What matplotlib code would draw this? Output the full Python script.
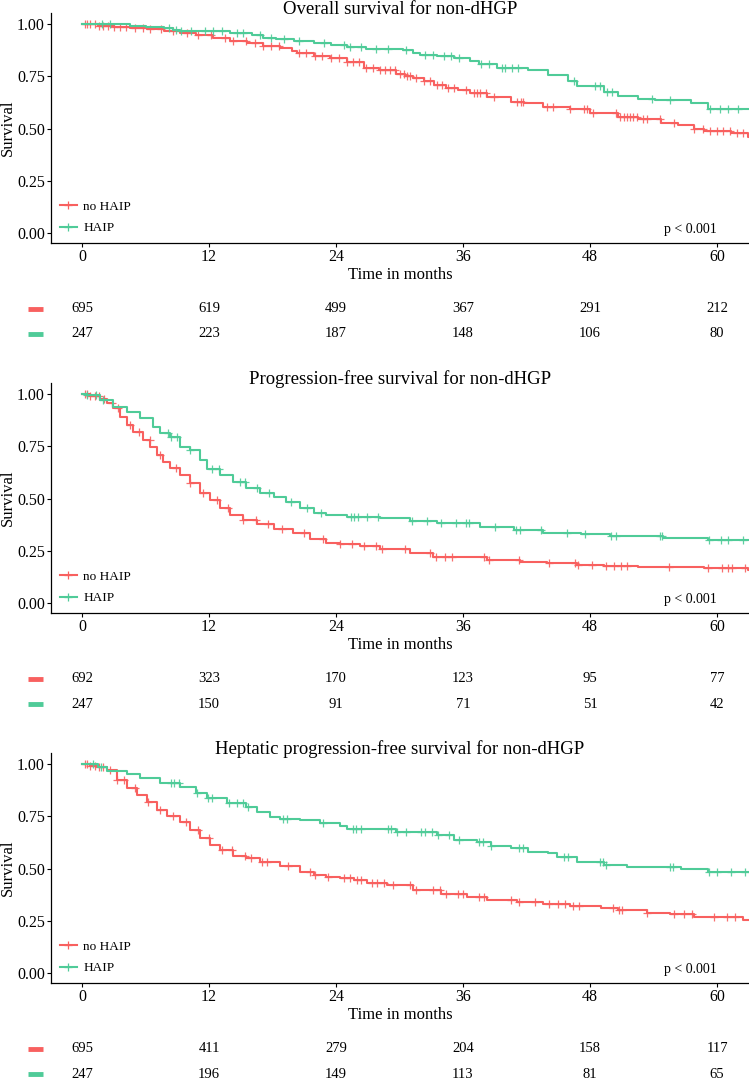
import numpy as np
import matplotlib
matplotlib.use('Agg')
import matplotlib.pyplot as plt
from matplotlib.lines import Line2D
from matplotlib.ticker import FormatStrFormatter

plt.rcParams['font.family'] = ['Liberation Serif', 'DejaVu Serif']

RED = '#F8605F'
GREEN = '#4FCB98'
W, H = 749, 1081

groups = ['no HAIP', 'HAIP']
risk_times = [0, 12, 24, 36, 48, 60]
titles = ['Overall survival for non-dHGP',
          'Progression-free survival for non-dHGP',
          'Heptatic progression-free survival for non-dHGP']

# --- overall survival ---
os_red_t = [0, 1.5, 3.0, 4.5, 6.1, 7.7, 9.3, 10.8, 12.4, 14.0, 15.6, 17.1, 18.7, 19.8, 20.3, 21.9, 23.4,
            25.0, 26.6, 28.1, 29.7, 30.5, 31.3, 32.3, 33.3, 34.4, 35.5, 36.7, 38.3, 40.5, 41.8, 43.6,
            46.1, 48.0, 50.6, 52.5, 54.7, 56.3, 57.8, 58.8, 61.3, 62.9, 63.5]
os_red_s = [1.0, 0.993, 0.987, 0.982, 0.976, 0.966, 0.955, 0.946, 0.935, 0.921, 0.907, 0.896, 0.884,
            0.872, 0.86, 0.848, 0.836, 0.82, 0.788, 0.778, 0.76, 0.752, 0.742, 0.726, 0.71, 0.695, 0.684,
            0.669, 0.65, 0.629, 0.621, 0.602, 0.592, 0.576, 0.557, 0.544, 0.528, 0.517, 0.50, 0.49,
            0.477, 0.461, 0.461]
os_green_t = [0, 4.5, 6.0, 7.7, 8.6, 9.3, 11.1, 14.0, 16.1, 17.1, 18.3, 20.0, 21.9, 23.5, 25.0, 26.8,
              28.5, 30.3, 31.3, 31.9, 33.5, 35.1, 36.7, 37.5, 39.2, 42.1, 44.0, 45.9, 46.8, 49.3, 50.6,
              52.5, 54.1, 57.5, 59.1, 63.5]
os_green_s = [1.0, 0.993, 0.987, 0.98, 0.971, 0.968, 0.965, 0.955, 0.948, 0.935, 0.928, 0.917, 0.907,
              0.9, 0.891, 0.882, 0.879, 0.877, 0.86, 0.853, 0.845, 0.837, 0.821, 0.81, 0.789, 0.781,
              0.757, 0.728, 0.704, 0.677, 0.656, 0.64, 0.637, 0.621, 0.592, 0.592]
os_red_cens = [0.3, 0.5, 0.8, 1.2, 1.6, 2.0, 2.5, 3.0, 3.6, 4.2, 5.0, 5.8, 6.4, 7.5, 8.6, 9.9, 11.0,
               12.2, 13.5, 14.3, 15.5, 16.3, 17.1, 17.9, 18.6, 20.5, 21.2, 22.0, 22.7, 23.5, 24.3, 25.0,
               25.6, 26.2, 26.8, 27.5, 28.2, 28.6, 29.1, 29.6, 30.0, 30.4, 30.7, 31.0, 31.6, 32.3, 32.9,
               33.5, 34.0, 34.6, 35.1, 36.3, 37.0, 37.3, 37.6, 38.2, 38.9, 41.1, 41.5, 41.7, 43.9, 44.5,
               46.1, 47.4, 47.7, 48.3, 50.5, 50.8, 51.2, 51.5, 51.8, 52.1, 52.4, 53.0, 53.4, 54.6, 55.9,
               57.8, 58.7, 59.3, 60.0, 60.6, 61.2, 61.9, 62.5]
os_green_cens = [1.9, 2.6, 8.2, 8.9, 9.4, 10.3, 11.6, 12.4, 13.2, 14.6, 15.2, 16.8, 17.9, 19.1, 20.5,
                 22.9, 24.8, 25.3, 26.4, 27.8, 28.9, 30.6, 32.4, 33.2, 34.2, 34.9, 35.6, 37.7, 38.5,
                 39.7, 40.0, 40.6, 41.2, 46.5, 48.5, 48.9, 49.6, 50.1, 53.9, 55.6, 59.3, 60.3, 61.0, 62.0]
os_risk_red = [695, 619, 499, 367, 291, 212]
os_risk_green = [247, 223, 187, 148, 106, 80]

# --- progression-free survival ---
pfs_red_t = [0, 0.8, 1.7, 2.33, 2.96, 3.6, 4.22, 4.85, 5.8, 6.43, 7.06, 7.69, 8.32, 9.26, 10.2, 11.15,
             12.1, 13.0, 14.0, 15.2, 16.5, 18.1, 19.9, 21.5, 23.1, 24.4, 26.3, 28.2, 31.0, 33.2, 36.4,
             38.3, 41.4, 43.9, 46.8, 49.3, 52.5, 58.8, 62.9, 63.5]
pfs_red_s = [1.0, 0.99, 0.975, 0.955, 0.932, 0.891, 0.852, 0.82, 0.78, 0.748, 0.708, 0.676, 0.644,
             0.612, 0.573, 0.525, 0.493, 0.453, 0.421, 0.397, 0.378, 0.353, 0.333, 0.305, 0.289, 0.282,
             0.273, 0.258, 0.237, 0.221, 0.218, 0.205, 0.197, 0.192, 0.184, 0.178, 0.17, 0.166, 0.16,
             0.16]
pfs_green_t = [0, 0.44, 1.7, 2.96, 4.22, 5.5, 6.7, 7.37, 8.3, 9.26, 10.2, 11.15, 11.8, 13.0, 14.3, 15.5,
               16.8, 18.1, 19.3, 20.6, 21.9, 23.1, 25.0, 28.2, 31.0, 33.5, 37.6, 40.8, 43.6, 47.1, 49.9,
               54.9, 59.1, 63.5]
pfs_green_s = [1.0, 0.995, 0.97, 0.939, 0.915, 0.884, 0.844, 0.812, 0.796, 0.748, 0.732, 0.684, 0.64,
               0.612, 0.58, 0.549, 0.525, 0.509, 0.485, 0.453, 0.432, 0.421, 0.413, 0.405, 0.394, 0.381,
               0.365, 0.349, 0.336, 0.330, 0.32, 0.309, 0.301, 0.301]
pfs_red_cens = [0.3, 0.5, 0.8, 1.2, 1.6, 2.1, 2.8, 3.4, 4.5, 5.4, 6.4, 7.4, 8.9, 10.2, 11.4, 12.8, 13.8,
                15.2, 16.4, 17.6, 18.9, 21.0, 22.8, 24.4, 25.5, 26.6, 27.8, 28.3, 30.5, 32.9, 33.4, 34.3,
                35.0, 38.0, 38.5, 41.3, 44.1, 46.6, 46.9, 48.2, 49.5, 50.3, 50.9, 51.5, 55.5, 59.1, 60.5,
                61.0, 61.4, 62.6]
pfs_green_cens = [0.5, 1.3, 2.0, 8.1, 8.4, 9.0, 10.2, 12.3, 12.9, 14.9, 15.4, 16.5, 17.7, 19.7, 21.3,
                  22.6, 25.4, 25.7, 26.1, 26.9, 28.0, 31.2, 32.6, 33.9, 35.3, 36.3, 36.6, 39.0, 41.0, 41.4,
                  43.4, 45.8, 47.5, 50.0, 50.5, 54.6, 54.8, 59.2, 60.4, 61.0, 62.5]
pfs_risk_red = [692, 323, 170, 123, 95, 77]
pfs_risk_green = [247, 150, 91, 71, 51, 42]

# --- hepatic progression-free survival ---
hpfs_red_t = [0, 0.8, 1.6, 2.33, 3.3, 4.22, 5.17, 6.1, 7.06, 8.0, 9.26, 10.2, 11.15, 12.1, 13.0, 14.3,
              15.5, 16.8, 18.7, 20.6, 21.9, 23.1, 24.4, 25.7, 26.9, 28.8, 31.3, 33.9, 36.4, 38.3, 41.1,
              43.6, 46.1, 49.0, 50.6, 53.4, 55.6, 57.8, 58.8, 62.5, 63.5]
hpfs_red_s = [1.0, 0.99, 0.985, 0.971, 0.923, 0.884, 0.852, 0.82, 0.78, 0.751, 0.724, 0.684, 0.644,
              0.612, 0.589, 0.56, 0.549, 0.533, 0.512, 0.485, 0.469, 0.461, 0.453, 0.445, 0.432, 0.421,
              0.397, 0.378, 0.365, 0.349, 0.341, 0.330, 0.32, 0.309, 0.301, 0.288, 0.282, 0.269, 0.266,
              0.253, 0.253]
hpfs_green_t = [0, 1.5, 2.33, 4.22, 5.5, 7.37, 9.26, 10.8, 11.8, 13.7, 15.5, 16.5, 17.8, 18.7, 20.6,
                22.5, 24.4, 25.0, 29.7, 33.5, 35.1, 37.3, 38.6, 40.5, 42.1, 44.0, 44.9, 46.8, 49.3, 51.5,
                56.6, 59.1, 63.5]
hpfs_green_s = [1.0, 0.985, 0.968, 0.952, 0.932, 0.908, 0.888, 0.86, 0.836, 0.812, 0.796, 0.772, 0.748,
                0.735, 0.732, 0.716, 0.703, 0.688, 0.677, 0.661, 0.637, 0.629, 0.608, 0.597, 0.581,
                0.573, 0.554, 0.533, 0.517, 0.506, 0.496, 0.482, 0.477]
hpfs_red_cens = [0.3, 0.5, 0.8, 1.2, 1.6, 2.0, 2.6, 3.3, 4.0, 5.0, 6.2, 7.4, 8.6, 9.8, 11.0, 12.0,
                 13.2, 14.2, 15.4, 16.0, 17.0, 17.5, 19.5, 21.5, 22.0, 23.2, 24.8, 25.3, 26.0, 26.4, 27.4,
                 27.9, 28.5, 29.4, 31.0, 31.6, 33.2, 33.8, 34.4, 35.5, 36.0, 37.5, 38.0, 40.5, 41.3, 42.8,
                 44.1, 45.0, 45.6, 46.4, 47.0, 50.2, 50.7, 51.0, 53.4, 55.9, 56.9, 57.6, 59.7, 60.9, 61.7]
hpfs_green_cens = [1.0, 1.8, 8.4, 8.7, 9.2, 10.9, 11.9, 12.3, 13.9, 14.6, 15.2, 15.7, 19.0, 19.4, 22.8,
                   25.6, 25.9, 26.4, 28.9, 29.2, 29.8, 30.6, 32.0, 32.4, 33.1, 33.6, 34.7, 35.6, 37.5,
                   37.9, 38.6, 41.3, 41.7, 45.5, 45.9, 48.9, 49.2, 49.5, 55.6, 55.8, 59.2, 60.0, 61.3, 62.6]
hpfs_risk_red = [695, 411, 279, 204, 158, 117]
hpfs_risk_green = [247, 196, 149, 113, 81, 65]


def value_at(t, s, c):
    # survival value of the step curve at the censoring times
    idx = np.searchsorted(np.asarray(t), c, side='right') - 1
    return np.asarray(s)[idx]


def km_panel(fig, off, title, curves, risks):
    ax = fig.add_axes([51 / W, 1 - (243 + off) / H, 698 / W, 230 / H])
    for (t, s, cens), col in zip(curves, [RED, GREEN]):
        ax.plot(t, s, drawstyle='steps-post', color=col, lw=1.5)
        ax.plot(cens, value_at(t, s, cens), ls='none', marker='+', ms=6, mew=0.9,
                color=col, alpha=0.9)
    ax.set_xlim(-2.93, 63.02)
    ax.set_ylim(-0.048, 1.053)
    ax.set_xticks(risk_times)
    ax.set_yticks([0, 0.25, 0.5, 0.75, 1.0])
    ax.yaxis.set_major_formatter(FormatStrFormatter('%.2f'))
    for side in ['top', 'right']:
        ax.spines[side].set_visible(False)
    for side in ['left', 'bottom']:
        ax.spines[side].set_linewidth(0.9)
    ax.tick_params(labelsize=11.5, length=3, width=0.8, pad=1.5, colors='black')
    ax.set_xlabel('Time in months', fontsize=12, labelpad=1)
    ax.set_ylabel('Survival', fontsize=12)
    ax.yaxis.set_label_coords(-0.051, 0.5)
    ax.text(60, 0.015, 'p < 0.001', ha='right', va='center', fontsize=10)

    handles = [Line2D([], [], color=c, lw=1.5, marker='+', ms=6, mew=0.9) for c in [RED, GREEN]]
    ax.legend(handles, groups, loc='lower left', bbox_to_anchor=(0.0, 0.0), frameon=False,
              fontsize=9.5, handlelength=1.3, handletextpad=0.5, labelspacing=0.7,
              borderaxespad=0.25, numpoints=1)
    fig.text(400 / W, 1 - (9 + off) / H, title, ha='center', va='center', fontsize=13.5)

    # number at risk
    axr = fig.add_axes([51 / W, 1 - (347 + off) / H, 698 / W, 50 / H])
    axr.set_xlim(-2.93, 63.02)
    axr.set_ylim(1.52, -0.48)
    axr.axis('off')
    for row, (vals, col) in enumerate(zip(risks, [RED, GREEN])):
        axr.plot([-5.1, -3.7], [row, row], color=col, lw=3.5, solid_capstyle='butt', clip_on=False)
        for x, v in zip(risk_times, vals):
            axr.text(x, row, str(v), ha='center', va='center', fontsize=10.5)


fig = plt.figure(figsize=(W / 100, H / 100), dpi=100)
km_panel(fig, 0, titles[0],
         [(os_red_t, os_red_s, os_red_cens), (os_green_t, os_green_s, os_green_cens)],
         [os_risk_red, os_risk_green])
km_panel(fig, 370, titles[1],
         [(pfs_red_t, pfs_red_s, pfs_red_cens), (pfs_green_t, pfs_green_s, pfs_green_cens)],
         [pfs_risk_red, pfs_risk_green])
km_panel(fig, 740, titles[2],
         [(hpfs_red_t, hpfs_red_s, hpfs_red_cens), (hpfs_green_t, hpfs_green_s, hpfs_green_cens)],
         [hpfs_risk_red, hpfs_risk_green])

fig.savefig('out.png', dpi=100)
